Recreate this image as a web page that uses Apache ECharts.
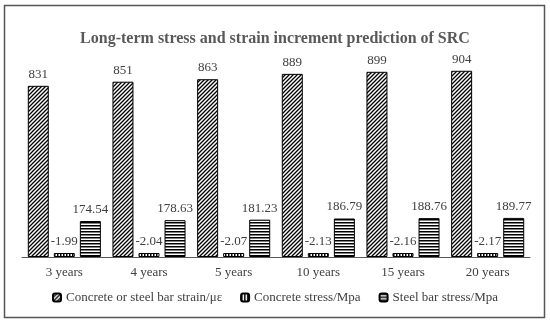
<!DOCTYPE html>
<html>
<head>
<meta charset="utf-8">
<script src="https://cdn.jsdelivr.net/npm/echarts@6/dist/echarts.min.js"></script>
<style>html,body{margin:0;padding:0;background:#fff;}#c{width:550px;height:322px;}</style>
</head>
<body>
<div id="c"></div>
<script>
const categories = ['3 years', '4 years', '5 years', '10 years', '15 years', '20 years'];
const strain = [831, 851, 863, 889, 899, 904];
const concreteStress = [-1.99, -2.04, -2.07, -2.13, -2.16, -2.17];
const steelStress = [174.54, 178.63, 181.23, 186.79, 188.76, 189.77];
const seriesNames = ['Concrete or steel bar strain/\u03bc\u03b5', 'Concrete stress/Mpa', 'Steel bar stress/Mpa'];

function makePattern(type) {
  const c = document.createElement('canvas');
  const ctx = c.getContext('2d');
  if (type === 'diag') {
    const s = 4;
    c.width = s; c.height = s;
    ctx.fillStyle = '#fff'; ctx.fillRect(0, 0, s, s);
    ctx.strokeStyle = '#000'; ctx.lineWidth = 1.3;
    ctx.beginPath();
    ctx.moveTo(-1, s + 1); ctx.lineTo(s + 1, -1);
    ctx.moveTo(-1, 1); ctx.lineTo(1, -1);
    ctx.moveTo(s - 1, s + 1); ctx.lineTo(s + 1, s - 1);
    ctx.stroke();
  } else if (type === 'horiz') {
    c.width = 3; c.height = 3;
    ctx.fillStyle = '#fff'; ctx.fillRect(0, 0, 3, 3);
    ctx.fillStyle = '#000'; ctx.fillRect(0, 0, 3, 1.5);
  } else {
    c.width = 3; c.height = 3;
    ctx.fillStyle = '#fff'; ctx.fillRect(0, 0, 3, 3);
    ctx.fillStyle = '#000'; ctx.fillRect(0, 0, 1.5, 3);
  }
  return { image: c, repeat: 'repeat' };
}

const font = '"Liberation Serif", "Times New Roman", serif';
const labelStyle = { show: true, position: 'top', distance: 5, color: '#404040', fontFamily: font, fontSize: 13 };

const chart = echarts.init(document.getElementById('c'), null, { renderer: 'canvas' });
chart.setOption({
  animation: false,
  backgroundColor: '#fff',
  title: {
    text: 'Long-term stress and strain increment prediction of SRC',
    left: 'center', top: 26,
    textStyle: { fontFamily: font, fontSize: 16, fontWeight: 'bold', color: '#595959' }
  },
  graphic: [{
    type: 'rect', shape: { x: 4.5, y: 5.5, width: 540, height: 312 },
    style: { fill: null, stroke: '#555', lineWidth: 1.5 }, silent: true
  }],
  legend: {
    bottom: 13, left: 'center',
    itemWidth: 8, itemHeight: 8, itemGap: 18,
    textStyle: { fontFamily: font, fontSize: 13, color: '#404040' },
    data: seriesNames
  },
  grid: { left: 22, right: 20, top: 51, bottom: 65 },
  xAxis: {
    type: 'category', data: categories,
    axisLine: { lineStyle: { color: '#595959', width: 1 } },
    axisTick: { show: false },
    axisLabel: { fontFamily: font, fontSize: 13, color: '#404040', margin: 9 }
  },
  yAxis: { type: 'value', min: 0, max: 1000, show: false, splitLine: { show: false } },
  series: [
    {
      name: seriesNames[0], type: 'bar', data: strain, barWidth: 21, barGap: '24%',
      itemStyle: { color: makePattern('diag'), borderColor: '#000', borderWidth: 1 },
      label: labelStyle
    },
    {
      name: seriesNames[1], type: 'bar', barWidth: 21, barGap: '24%', barMinHeight: 4,
      data: concreteStress.map(v => Math.abs(v)),
      itemStyle: { color: makePattern('vert'), borderColor: '#000', borderWidth: 1 },
      label: Object.assign({}, labelStyle, {
        backgroundColor: '#fff', padding: [0, 1],
        formatter: p => concreteStress[p.dataIndex].toFixed(2)
      })
    },
    {
      name: seriesNames[2], type: 'bar', data: steelStress, barWidth: 21, barGap: '24%',
      itemStyle: { color: makePattern('horiz'), borderColor: '#000', borderWidth: 1 },
      label: Object.assign({}, labelStyle, { formatter: p => steelStress[p.dataIndex].toFixed(2) })
    }
  ]
});
</script>
</body>
</html>
